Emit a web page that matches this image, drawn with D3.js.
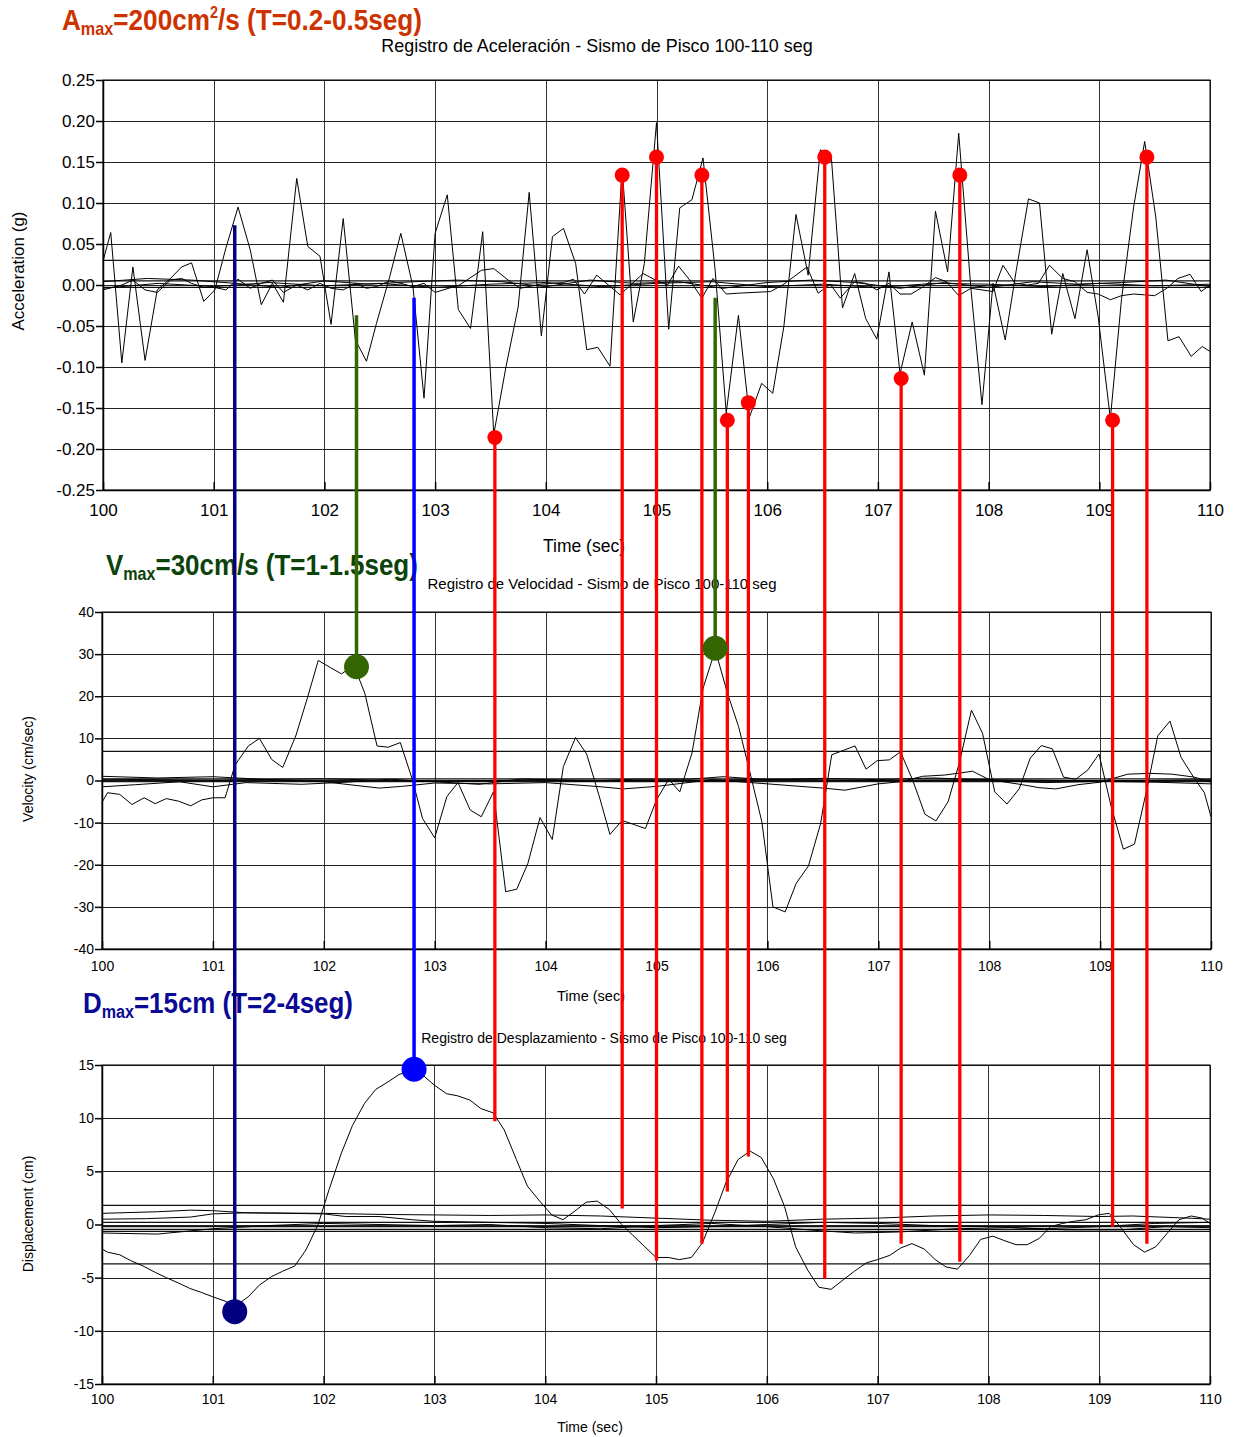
<!DOCTYPE html>
<html>
<head>
<meta charset="utf-8">
<script src="https://cdn.jsdelivr.net/npm/d3@7"></script>
<style>
  html, body { margin: 0; padding: 0; background: #fff; }
  svg { display: block; font-family: "Liberation Sans", Arial, Helvetica, sans-serif; }
</style>
</head>
<body>
<svg id="chart" width="1238" height="1437"></svg>
<script>
// ---- data ----
const xTicks = [100, 101, 102, 103, 104, 105, 106, 107, 108, 109, 110];
const accTicks = [-0.25, -0.2, -0.15, -0.1, -0.05, 0, 0.05, 0.1, 0.15, 0.2, 0.25];
const velTicks = [-40, -30, -20, -10, 0, 10, 20, 30, 40];
const dispTicks = [-15, -10, -5, 0, 5, 10, 15];

// acceleration (g)
const accMain = [
  [100.00,0.029],[100.07,0.064],[100.17,-0.095],[100.27,0.022],[100.38,-0.092],[100.49,-0.006],[100.61,0.008],
  [100.71,0.022],[100.80,0.027],[100.91,-0.020],[101.01,-0.006],[101.11,0.045],[101.22,0.095],[101.33,0.043],
  [101.43,-0.024],[101.53,0.002],[101.63,-0.021],[101.75,0.130],[101.85,0.047],[101.96,0.035],[102.06,-0.048],
  [102.17,0.081],[102.28,-0.067],[102.38,-0.093],[102.47,-0.047],[102.59,0.010],[102.69,0.063],[102.80,-0.002],
  [102.90,-0.138],[103.00,0.063],[103.11,0.110],[103.21,-0.030],[103.32,-0.053],[103.43,0.065],[103.53,-0.182],
  [103.64,-0.100],[103.75,-0.027],[103.85,0.113],[103.96,-0.062],[104.06,0.059],[104.16,0.069],[104.27,0.026],
  [104.37,-0.079],[104.47,-0.076],[104.58,-0.099],[104.69,0.142],[104.79,-0.045],[104.89,0.026],[105.00,0.198],
  [105.11,-0.054],[105.21,0.094],[105.32,0.104],[105.42,0.155],[105.53,0.018],[105.63,-0.156],[105.74,-0.037],
  [105.84,-0.161],[105.95,-0.120],[106.05,-0.132],[106.15,-0.051],[106.26,0.086],[106.37,0.012],[106.48,0.165],
  [106.58,0.155],[106.68,-0.028],[106.79,0.014],[106.89,-0.041],[106.99,-0.066],[107.10,0.016],[107.20,-0.108],
  [107.31,-0.045],[107.42,-0.110],[107.52,0.090],[107.63,0.016],[107.73,0.185],[107.84,-0.004],[107.94,-0.146],
  [108.04,0.002],[108.15,-0.067],[108.25,0.018],[108.36,0.105],[108.46,0.100],[108.57,-0.060],[108.67,0.014],
  [108.78,-0.041],[108.89,0.043],[108.99,-0.039],[109.10,-0.163],[109.20,-0.018],[109.31,0.095],[109.41,0.175],
  [109.51,0.083],[109.62,-0.068],[109.72,-0.063],[109.83,-0.087],[109.93,-0.075],[110.00,-0.081]
];
const accSmallA = [
  [100.00,-0.006],[100.17,0.000],[100.27,0.006],[100.38,-0.006],[100.49,-0.009],[100.61,0.006],[100.71,0.008],
  [100.80,0.002],[100.91,-0.003],[101.01,-0.003],[101.11,-0.006],[101.22,0.007],[101.33,-0.004],[101.43,0.002],
  [101.53,0.006],[101.63,-0.009],[101.75,0.000],[101.85,-0.006],[101.96,0.002],[102.06,-0.004],[102.17,-0.006],
  [102.28,0.002],[102.38,-0.004],[102.47,-0.002],[102.59,0.005],[102.69,0.002],[102.80,-0.002],[102.90,0.002],
  [103.00,-0.009],[103.22,0.000],[103.42,0.018],[103.53,0.020],[103.66,0.006],[103.77,-0.004],[103.95,0.001],
  [104.16,0.003],[104.25,0.007],[104.35,-0.011],[104.46,0.012],[104.67,-0.012],[104.88,0.014],[104.99,0.006],
  [105.10,0.000],[105.20,0.023],[105.30,0.006],[105.41,-0.016],[105.51,0.008],[105.63,-0.011],[105.74,-0.010],
  [106.03,-0.008],[106.15,0.001],[106.36,0.022],[106.46,-0.010],[106.57,0.001],[106.66,-0.016],[106.79,0.004],
  [106.89,0.002],[106.99,-0.006],[107.10,0.002],[107.20,-0.011],[107.30,-0.011],[107.41,-0.002],[107.52,0.009],
  [107.62,0.004],[107.73,-0.013],[107.84,-0.004],[108.04,-0.008],[108.13,0.024],[108.24,0.002],[108.35,0.000],
  [108.45,0.002],[108.55,0.024],[108.67,0.008],[108.78,0.004],[108.89,-0.009],[108.99,-0.011],[109.10,-0.018],
  [109.20,-0.013],[109.31,-0.011],[109.41,-0.012],[109.50,-0.013],[109.61,-0.004],[109.71,0.008],[109.82,0.013],
  [109.92,-0.008],[110.00,0.000]
];
const accSmallB = [
  [100.0,0.004],[100.4,0.008],[100.8,0.006],[101.2,0.002],[101.6,-0.003],[102.0,0.005],[102.4,0.001],[102.8,0.004],
  [103.2,0.006],[103.6,0.004],[104.0,-0.002],[104.4,0.006],[104.8,0.002],[105.2,0.004],[105.6,-0.004],[106.0,0.003],
  [106.4,0.006],[106.8,0.003],[107.2,-0.004],[107.6,0.003],[108.0,-0.003],[108.4,0.004],[108.8,0.001],[109.2,0.003],
  [109.6,0.006],[110.0,-0.002]
];
const accSmallC = [
  [100.0,-0.004],[100.5,0.002],[101.0,-0.002],[101.5,0.003],[102.0,-0.001],[102.5,0.002],[103.0,-0.003],
  [103.5,0.001],[104.0,0.003],[104.5,-0.002],[105.0,0.002],[105.5,0.004],[106.0,-0.002],[106.5,0.001],
  [107.0,-0.003],[107.5,0.002],[108.0,0.001],[108.5,-0.002],[109.0,0.002],[109.5,-0.001],[110.0,0.001]
];
const accRefLines = [0.03, 0.005, -0.003];

// velocity (cm/sec)
const velMain = [
  [100.00,-5.2],[100.05,-2.9],[100.16,-3.3],[100.27,-5.7],[100.38,-4.1],[100.48,-5.5],[100.58,-4.3],[100.69,-4.9],
  [100.80,-6.0],[100.90,-4.6],[101.00,-4.1],[101.11,-4.1],[101.20,3.7],[101.32,8.2],[101.42,10.0],[101.53,5.0],
  [101.63,3.1],[101.75,10.8],[101.85,19.4],[101.95,28.5],[102.06,26.8],[102.16,25.3],[102.27,27.4],[102.37,20.7],
  [102.48,8.2],[102.58,7.9],[102.69,9.0],[102.80,0.1],[102.89,-9.0],[103.00,-13.6],[103.11,-3.8],[103.21,-0.5],
  [103.32,-7.0],[103.42,-8.6],[103.53,-2.7],[103.64,-26.4],[103.74,-25.8],[103.84,-19.7],[103.95,-8.8],[104.06,-14.0],
  [104.16,3.3],[104.27,10.2],[104.37,6.3],[104.48,-3.4],[104.58,-12.8],[104.69,-9.5],[104.79,-10.4],[104.90,-11.4],
  [105.00,-4.6],[105.11,0.3],[105.21,-2.7],[105.32,6.5],[105.42,21.9],[105.53,31.0],[105.64,20.7],[105.74,12.8],
  [105.83,3.3],[105.95,-9.8],[106.05,-30.0],[106.16,-31.2],[106.26,-24.4],[106.37,-20.3],[106.48,-10.2],[106.58,6.1],
  [106.69,7.2],[106.79,8.2],[106.89,2.7],[106.99,4.7],[107.10,4.9],[107.20,6.8],[107.31,0.1],[107.42,-8.0],
  [107.52,-9.6],[107.63,-5.0],[107.73,4.1],[107.84,16.7],[107.94,11.2],[108.05,-2.7],[108.16,-5.6],[108.27,-2.0],
  [108.37,5.3],[108.47,8.3],[108.57,7.5],[108.67,0.8],[108.78,0.3],[108.89,2.5],[108.99,6.3],[109.10,-6.2],
  [109.21,-16.3],[109.31,-15.1],[109.42,-2.3],[109.52,10.6],[109.63,14.1],[109.73,5.5],[109.84,0.9],[109.94,-2.9],
  [110.00,-8.6]
];
const velSmallA = [
  [100.0,1.0],[100.5,0.6],[101.0,0.9],[101.5,0.2],[102.0,-0.3],[102.5,-1.8],[102.7,-1.4],[103.0,-0.6],[103.5,-0.8],
  [104.0,-0.5],[104.5,-1.5],[104.7,-2.0],[105.0,-1.4],[105.5,0.2],[106.0,-0.8],[106.5,-1.8],[106.7,-2.3],[107.0,-0.8],
  [107.2,-0.3],[107.4,1.0],[107.6,1.3],[107.85,2.2],[108.0,0.2],[108.3,-1.0],[108.45,-1.7],[108.6,-2.0],[108.8,-1.0],
  [109.0,-0.4],[109.25,1.5],[109.45,1.7],[109.65,1.5],[109.85,0.8],[110.0,-0.4]
];
const velSmallB = [
  [100.0,-1.5],[100.3,-1.0],[100.7,-0.3],[101.0,-1.5],[101.3,-0.5],[101.8,-0.9],[102.2,-0.4],[102.6,0.3],[103.0,-0.3],
  [103.4,-0.9],[103.8,0.4],[104.3,-0.2],[104.8,0.3],[105.3,0.3],[105.6,0.9],[106.0,0.2],[106.5,0.5],[107.0,0.2],
  [107.5,0.6],[108.0,0.1],[108.5,-0.5],[109.0,-0.2],[109.5,-0.4],[110.0,-0.8]
];
const velSmallC = [
  [100.0,0.3],[101.0,0.1],[102.0,0.4],[103.0,-0.2],[104.0,0.2],[105.0,-0.1],[106.0,0.3],[107.0,0.0],[108.0,0.2],
  [109.0,-0.1],[110.0,0.2]
];
const velRefLines = [6.9, 0.4, 0.0, -0.3];

// displacement (cm)
const dispMain = [
  [100.00,-2.3],[100.05,-2.6],[100.16,-2.85],[100.26,-3.4],[100.37,-3.9],[100.48,-4.5],[100.58,-5.0],[100.69,-5.5],
  [100.79,-6.0],[100.90,-6.4],[101.00,-6.8],[101.11,-7.2],[101.20,-7.7],[101.32,-6.8],[101.42,-5.7],[101.53,-4.9],
  [101.63,-4.4],[101.74,-3.9],[101.84,-2.4],[101.95,0.0],[102.05,3.3],[102.16,6.7],[102.26,9.3],[102.37,11.4],
  [102.47,12.7],[102.58,13.4],[102.68,14.1],[102.81,14.6],[102.89,14.1],[103.00,13.1],[103.11,12.3],[103.21,12.1],
  [103.32,11.7],[103.42,10.9],[103.53,10.5],[103.63,8.9],[103.74,6.1],[103.84,3.6],[103.95,2.2],[104.06,0.9],
  [104.16,0.45],[104.26,1.2],[104.37,2.1],[104.47,2.2],[104.58,1.4],[104.69,0.0],[104.79,-1.0],[104.90,-2.1],
  [105.00,-3.1],[105.11,-3.1],[105.21,-3.3],[105.32,-3.1],[105.42,-1.7],[105.53,1.1],[105.63,3.9],[105.74,6.1],
  [105.85,6.9],[105.95,6.3],[106.06,4.3],[106.16,1.7],[106.26,-2.1],[106.37,-4.3],[106.47,-5.9],[106.58,-6.1],
  [106.69,-5.2],[106.79,-4.4],[106.90,-3.6],[107.00,-3.3],[107.11,-2.9],[107.21,-2.2],[107.31,-1.8],[107.42,-2.3],
  [107.52,-3.3],[107.62,-4.0],[107.72,-4.2],[107.83,-2.9],[107.93,-1.4],[108.04,-1.1],[108.14,-1.5],[108.25,-1.9],
  [108.35,-1.9],[108.46,-1.3],[108.56,-0.2],[108.67,0.1],[108.77,0.3],[108.88,0.45],[108.99,0.9],[109.09,1.05],
  [109.20,-0.35],[109.31,-1.9],[109.41,-2.6],[109.51,-2.1],[109.62,-0.75],[109.72,0.45],[109.83,0.8],[109.93,0.6],
  [110.00,0.1]
];
const dispSmallA = [
  [100.0,1.05],[100.5,1.2],[100.8,1.35],[101.0,1.3],[101.3,1.1],[102.0,1.05],[102.5,0.95],[103.0,0.9],[103.5,0.85],
  [104.0,0.9],[104.5,0.8],[105.0,0.6],[105.5,0.4],[106.0,0.3],[106.5,0.5],[107.0,0.6],[107.5,0.8],[108.0,0.9],
  [108.5,0.85],[109.0,0.75],[109.3,0.8],[109.8,0.6],[110.0,0.5]
];
const dispSmallB = [
  [100.0,0.5],[100.4,0.55],[100.8,0.7],[101.0,1.0],[101.3,1.1],[102.0,1.0],[102.2,0.75],[102.5,0.75],[102.8,0.45],
  [103.0,0.3],[103.5,0.2],[104.0,0.1],[104.5,-0.1],[105.0,-0.3],[105.5,-0.2],[106.0,0.0],[106.5,0.2],[107.0,0.1],
  [107.5,-0.1],[108.0,-0.2],[108.5,-0.4],[109.0,-0.2],[109.5,0.1],[110.0,0.2]
];
const dispSmallC = [
  [100.0,-0.8],[100.5,-0.9],[101.0,-0.4],[101.5,-0.1],[102.0,0.1],[102.5,0.0],[103.0,-0.1],[103.5,0.0],[104.0,-0.3],
  [104.5,-0.4],[105.0,-0.1],[105.5,0.1],[106.0,-0.2],[106.5,-0.6],[106.8,-0.8],[107.2,-0.7],[107.7,-0.4],[108.2,-0.3],
  [108.7,-0.5],[109.2,-0.5],[109.6,-0.2],[110.0,-0.3]
];
const dispRefLines = [1.8, 0.2, -0.2, -0.45, -0.65, -3.7];

// peak markers
const accPeakT = [103.54, 104.69, 105.00, 105.41, 105.64, 105.83, 106.52, 107.21, 107.74, 109.12, 109.43];
const accPeakV = [-0.186, 0.134, 0.156, 0.134, -0.165, -0.1435, 0.156, -0.114, 0.134, -0.165, 0.156];
const accPeakDispEnd = [9.7, 1.5, -3.4, -1.8, 3.1, 6.4, -5.1, -1.8, -3.5, -0.2, -1.8];
const velPeakT = [102.29, 105.53];
const velPeakV = [27.0, 31.4];
const velPeakAccTop = [-0.037, -0.0155];
const dispPeakT = [101.19, 102.81];
const dispPeakV = [-8.2, 14.6];
const dispPeakAccTop = [0.073, -0.0155];

// ---- drawing ----
const svg = d3.select("#chart");
const FONT = '"Liberation Sans", Arial, Helvetica, sans-serif';

function createPanel(cfg) {
  const x = d3.scaleLinear().domain([100, 110]).range([cfg.left, cfg.right]);
  const y = d3.scaleLinear().domain(cfg.domain).range([cfg.bottom, cfg.top]);
  const g = svg.append("g");

  // grid
  g.append("g")
    .selectAll("line")
    .data(xTicks)
    .join("line")
    .attr("x1", d => Math.round(x(d)) + 0.5)
    .attr("x2", d => Math.round(x(d)) + 0.5)
    .attr("y1", cfg.top)
    .attr("y2", cfg.bottom)
    .attr("stroke", "#333")
    .attr("stroke-width", 1);

  g.append("g")
    .selectAll("line")
    .data(cfg.ticks)
    .join("line")
    .attr("x1", cfg.left)
    .attr("x2", cfg.right)
    .attr("y1", d => Math.round(y(d)) + 0.5)
    .attr("y2", d => Math.round(y(d)) + 0.5)
    .attr("stroke", "#222")
    .attr("stroke-width", 1);

  // reference lines
  g.append("g")
    .selectAll("line")
    .data(cfg.refLines)
    .join("line")
    .attr("x1", cfg.left)
    .attr("x2", cfg.right)
    .attr("y1", d => y(d))
    .attr("y2", d => y(d))
    .attr("stroke", "#111")
    .attr("stroke-width", 1.2);

  const line = d3.line().x(d => x(d[0])).y(d => y(d[1]));
  g.append("g")
    .selectAll("path")
    .data(cfg.series)
    .join("path")
    .attr("d", line)
    .attr("fill", "none")
    .attr("stroke", "#000")
    .attr("stroke-width", 1)
    .attr("stroke-linejoin", "miter");

  // frame
  g.append("rect")
    .attr("x", cfg.left)
    .attr("y", cfg.top)
    .attr("width", cfg.right - cfg.left)
    .attr("height", cfg.bottom - cfg.top)
    .attr("fill", "none")
    .attr("stroke", "#000")
    .attr("stroke-width", 1);

  const yAxis = g.append("g")
    .attr("transform", `translate(${cfg.left},0)`)
    .call(d3.axisLeft(y).tickValues(cfg.ticks).tickFormat(cfg.fmt).tickSize(7).tickSizeOuter(0).tickPadding(1));
  const xAxis = g.append("g")
    .attr("transform", `translate(0,${cfg.bottom})`)
    .call(d3.axisBottom(x).tickValues(xTicks).tickFormat(d3.format("d")).tickSizeInner(-8).tickSizeOuter(0).tickPadding(cfg.xPad));

  [yAxis, xAxis].forEach(a => {
    a.attr("font-family", FONT).attr("font-size", cfg.font);
    a.selectAll("text").attr("fill", "#000");
    a.selectAll("line").attr("stroke", "#000").attr("stroke-width", 1.5);
    a.select(".domain").attr("stroke", "#000").attr("stroke-width", 1.5);
  });

  g.append("text")
    .attr("x", cfg.titleX)
    .attr("y", cfg.titleY)
    .attr("text-anchor", "middle")
    .attr("font-size", cfg.titleFont)
    .text(cfg.title);

  g.append("text")
    .attr("x", cfg.xLabelX)
    .attr("y", cfg.xLabelY)
    .attr("text-anchor", "middle")
    .attr("font-size", cfg.xLabelFont)
    .text("Time (sec)");

  g.append("text")
    .attr("transform", `translate(${cfg.yLabelX},${cfg.yLabelY}) rotate(-90)`)
    .attr("text-anchor", "middle")
    .attr("font-size", cfg.yLabelFont)
    .text(cfg.yLabel);

  return { x, y };
}

const acc = createPanel({
  left: 103, right: 1210, top: 80, bottom: 490,
  domain: [-0.25, 0.25], ticks: accTicks, fmt: d => d.toFixed(2),
  font: 17, xPad: 14,
  refLines: accRefLines, series: [accSmallC, accSmallB, accSmallA, accMain],
  title: "Registro de Aceleración - Sismo de Pisco 100-110 seg", titleX: 597, titleY: 52, titleFont: 17.9,
  xLabelX: 584, xLabelY: 552, xLabelFont: 17.5,
  yLabel: "Acceleration (g)", yLabelX: 24, yLabelY: 271, yLabelFont: 17
});

const vel = createPanel({
  left: 102, right: 1211, top: 612, bottom: 949,
  domain: [-40, 40], ticks: velTicks, fmt: d => String(d),
  font: 14, xPad: 12,
  refLines: velRefLines, series: [velSmallC, velSmallB, velSmallA, velMain],
  title: "Registro de Velocidad - Sismo de Pisco 100-110 seg", titleX: 602, titleY: 589, titleFont: 15,
  xLabelX: 591, xLabelY: 1001, xLabelFont: 14.5,
  yLabel: "Velocity (cm/sec)", yLabelX: 33, yLabelY: 769, yLabelFont: 14
});

const disp = createPanel({
  left: 102, right: 1210, top: 1065, bottom: 1384,
  domain: [-15, 15], ticks: dispTicks, fmt: d => String(d),
  font: 14, xPad: 10,
  refLines: dispRefLines, series: [dispSmallC, dispSmallB, dispSmallA, dispMain],
  title: "Registro de Desplazamiento - Sismo de Pisco 100-110 seg", titleX: 604, titleY: 1043, titleFont: 14,
  xLabelX: 590, xLabelY: 1432, xLabelFont: 14,
  yLabel: "Displacement (cm)", yLabelX: 33, yLabelY: 1214, yLabelFont: 14
});

// ---- peak labels ----
function peakLabel(x, y, width, color, parts) {
  const t = svg.append("text")
    .attr("font-family", FONT)
    .attr("font-weight", "bold")
    .attr("font-size", 29)
    .attr("fill", color);
  parts.forEach(p => {
    t.append("tspan")
      .attr("dy", p.dy || 0)
      .attr("font-size", p.size || 29)
      .text(p.text);
  });
  const w = t.node().getBBox().width;
  t.attr("transform", `translate(${x},${y}) scale(${width / w},1)`);
}

peakLabel(62, 30, 360, "#cc3300", [
  { text: "A" }, { text: "max", size: 18, dy: 5 }, { text: "=200cm", dy: -5 },
  { text: "2", size: 16, dy: -12 }, { text: "/s (T=0.2-0.5seg)", dy: 12 }
]);
peakLabel(106, 575, 312, "#0b430b", [
  { text: "V" }, { text: "max", size: 18, dy: 5 }, { text: "=30cm/s (T=1-1.5seg)", dy: -5 }
]);
peakLabel(83, 1013, 270, "#0a0a94", [
  { text: "D" }, { text: "max", size: 18, dy: 5 }, { text: "=15cm (T=2-4seg)", dy: -5 }
]);

// ---- peak markers over all panels ----
const overlay = svg.append("g");
const xs = acc.x;

overlay.append("g")
  .selectAll("line")
  .data(dispPeakT)
  .join("line")
  .attr("x1", d => xs(d)).attr("x2", d => xs(d))
  .attr("y1", (d, i) => acc.y(dispPeakAccTop[i]))
  .attr("y2", (d, i) => disp.y(dispPeakV[i]))
  .attr("stroke", (d, i) => i === 0 ? "#000080" : "#0000ff")
  .attr("stroke-width", 3.5);

overlay.append("g")
  .selectAll("line")
  .data(velPeakT)
  .join("line")
  .attr("x1", d => xs(d)).attr("x2", d => xs(d))
  .attr("y1", (d, i) => acc.y(velPeakAccTop[i]))
  .attr("y2", (d, i) => vel.y(velPeakV[i]))
  .attr("stroke", "#336600")
  .attr("stroke-width", 3.5);

overlay.append("g")
  .selectAll("line")
  .data(accPeakT)
  .join("line")
  .attr("x1", d => xs(d)).attr("x2", d => xs(d))
  .attr("y1", (d, i) => acc.y(accPeakV[i]))
  .attr("y2", (d, i) => disp.y(accPeakDispEnd[i]))
  .attr("stroke", "#ff0000")
  .attr("stroke-width", 3.3);

overlay.append("g")
  .selectAll("circle")
  .data(accPeakT)
  .join("circle")
  .attr("cx", d => xs(d))
  .attr("cy", (d, i) => acc.y(accPeakV[i]))
  .attr("r", 7.5)
  .attr("fill", "#ff0000");

overlay.append("g")
  .selectAll("circle")
  .data(velPeakT)
  .join("circle")
  .attr("cx", d => xs(d))
  .attr("cy", (d, i) => vel.y(velPeakV[i]))
  .attr("r", 12.5)
  .attr("fill", "#336600");

overlay.append("g")
  .selectAll("circle")
  .data(dispPeakT)
  .join("circle")
  .attr("cx", d => xs(d))
  .attr("cy", (d, i) => disp.y(dispPeakV[i]))
  .attr("r", 12.5)
  .attr("fill", (d, i) => i === 0 ? "#000080" : "#0000ff");
</script>
</body>
</html>
